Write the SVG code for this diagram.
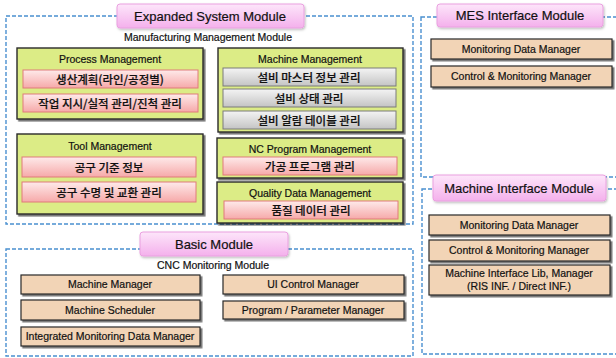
<svg xmlns="http://www.w3.org/2000/svg" width="616" height="358" viewBox="0 0 616 358">
<defs>
<linearGradient id="gTab" x1="0" y1="0" x2="0" y2="1"><stop offset="0" stop-color="#fde6fa"/><stop offset="1" stop-color="#f4b0ec"/></linearGradient>
<linearGradient id="gPink" x1="0" y1="0" x2="0" y2="1"><stop offset="0" stop-color="#feeaea"/><stop offset="1" stop-color="#f6a9a9"/></linearGradient>
<linearGradient id="gGray" x1="0" y1="0" x2="0" y2="1"><stop offset="0" stop-color="#f4f4f4"/><stop offset="1" stop-color="#c4c4c4"/></linearGradient>
<filter id="sh" x="-5%" y="-5%" width="115%" height="130%"><feDropShadow dx="1.8" dy="1.8" stdDeviation="0.6" flood-color="#000" flood-opacity="0.55"/></filter>
<filter id="shs" x="-5%" y="-10%" width="115%" height="140%"><feDropShadow dx="1" dy="1.5" stdDeviation="1" flood-color="#000" flood-opacity="0.25"/></filter>
</defs>
<style>
text{font-family:"Liberation Sans","Noto Sans CJK KR",sans-serif;fill:#111;text-anchor:middle;stroke:#111;stroke-width:0.2}
.kr{font-family:"Noto Sans CJK KR","Liberation Sans",sans-serif;font-size:11.5px;font-weight:500}
.dash{fill:none;stroke:#4a90d0;stroke-width:1.4;stroke-dasharray:4 2}
.tab{fill:url(#gTab);stroke:#eaa0e0;stroke-width:1;filter:url(#shs)}
.tabt{font-size:13px}
.sec{font-size:10.5px}
.grp{fill:#dcec86;stroke:#2a2a2a;stroke-width:1.4;filter:url(#sh)}
.grpt{font-size:10.5px}
.pink{fill:url(#gPink);stroke:#e07a7a;stroke-width:1}
.gray{fill:url(#gGray);stroke:#7a7a7a;stroke-width:1}
.tan{fill:#f2d4b6;stroke:#2a2a2a;stroke-width:1.2;filter:url(#sh)}
.it{font-size:10.5px}
</style>
<g id="containers">
<rect class="dash" x="6" y="16" width="407" height="208"/>
<rect class="dash" x="421" y="17" width="205" height="160"/>
<rect class="dash" x="422" y="189" width="205" height="165"/>
<rect class="dash" x="6" y="249" width="407" height="107"/>
</g>
<g id="connectors"></g>
<g id="expanded-tab"><rect class="tab" x="117" y="4" width="187" height="24" rx="3"/><text class="tabt" x="210" y="21">Expanded System Module</text></g>
<text class="sec" x="208" y="41">Manufacturing Management Module</text>
<g id="process">
<rect class="grp" x="17" y="48" width="186" height="71"/>
<text class="grpt" x="110" y="63">Process Management</text>
<rect class="pink" x="23" y="70" width="175" height="18"/><text class="kr" x="110" y="83.5">생산계획(라인/공정별)</text>
<rect class="pink" x="23" y="94" width="175" height="18"/><text class="kr" x="110" y="107.5">작업 지시/실적 관리/진척 관리</text>
</g>
<g id="tool">
<rect class="grp" x="17" y="134" width="186" height="80"/>
<text class="grpt" x="110" y="150">Tool Management</text>
<rect class="pink" x="22" y="157" width="174" height="20"/><text class="kr" x="109" y="171.5">공구 기준 정보</text>
<rect class="pink" x="22" y="182" width="174" height="20"/><text class="kr" x="109" y="196.5">공구 수명 및 교환 관리</text>
</g>
<g id="machine">
<rect class="grp" x="218" y="48" width="185" height="84"/>
<text class="grpt" x="310" y="63">Machine Management</text>
<rect class="gray" x="223" y="68" width="173" height="18"/><text class="kr" x="309" y="81.5">설비 마스터 정보 관리</text>
<rect class="gray" x="223" y="89" width="173" height="18"/><text class="kr" x="309" y="102.5">설비 상태 관리</text>
<rect class="gray" x="223" y="111" width="173" height="18"/><text class="kr" x="309" y="124.5">설비 알람 테이블 관리</text>
</g>
<g id="nc">
<rect class="grp" x="217" y="138" width="186" height="40"/>
<text class="grpt" x="310" y="153">NC Program Management</text>
<rect class="pink" x="223" y="157" width="174" height="18"/><text class="kr" x="310" y="170.5">가공 프로그램 관리</text>
</g>
<g id="quality">
<rect class="grp" x="217" y="182" width="186" height="41"/>
<text class="grpt" x="310" y="197">Quality Data Management</text>
<rect class="pink" x="224" y="201" width="174" height="18"/><text class="kr" x="311" y="214.5">품질 데이터 관리</text>
</g>
<g id="mes">
<rect class="tab" x="437" y="4" width="166" height="23" rx="3"/><text class="tabt" x="520" y="20">MES Interface Module</text>
<rect class="tan" x="431" y="39" width="181" height="20"/><text class="it" x="521" y="53">Monitoring Data Manager</text>
<rect class="tan" x="431" y="66" width="181" height="21"/><text class="it" x="521" y="80">Control &amp; Monitoring Manager</text>
</g>
<g id="machine-interface">
<rect class="tab" x="433" y="175" width="173" height="26" rx="3"/><text class="tabt" x="519" y="193">Machine Interface Module</text>
<rect class="tan" x="429" y="215" width="181" height="20"/><text class="it" x="519" y="229">Monitoring Data Manager</text>
<rect class="tan" x="429" y="240" width="181" height="21"/><text class="it" x="519" y="254">Control &amp; Monitoring Manager</text>
<rect class="tan" x="429" y="265" width="181" height="30"/><text class="it" x="519" y="277">Machine Interface Lib, Manager</text><text class="it" x="519" y="290">(RIS INF. / Direct INF.)</text>
</g>
<g id="basic">
<rect class="tab" x="140" y="232" width="148" height="24" rx="3"/><text class="tabt" x="214" y="249">Basic Module</text>
<text class="sec" x="213" y="269">CNC Monitoring Module</text>
<rect class="tan" x="21" y="275" width="179" height="19"/><text class="it" x="110" y="288">Machine Manager</text>
<rect class="tan" x="21" y="300" width="179" height="20"/><text class="it" x="110" y="314">Machine Scheduler</text>
<rect class="tan" x="21" y="327" width="179" height="19"/><text class="it" x="110" y="340">Integrated Monitoring Data Manager</text>
<rect class="tan" x="223" y="275" width="181" height="19"/><text class="it" x="313" y="288">UI Control Manager</text>
<rect class="tan" x="223" y="301" width="181" height="18"/><text class="it" x="313" y="314">Program / Parameter Manager</text>
</g>
</svg>
